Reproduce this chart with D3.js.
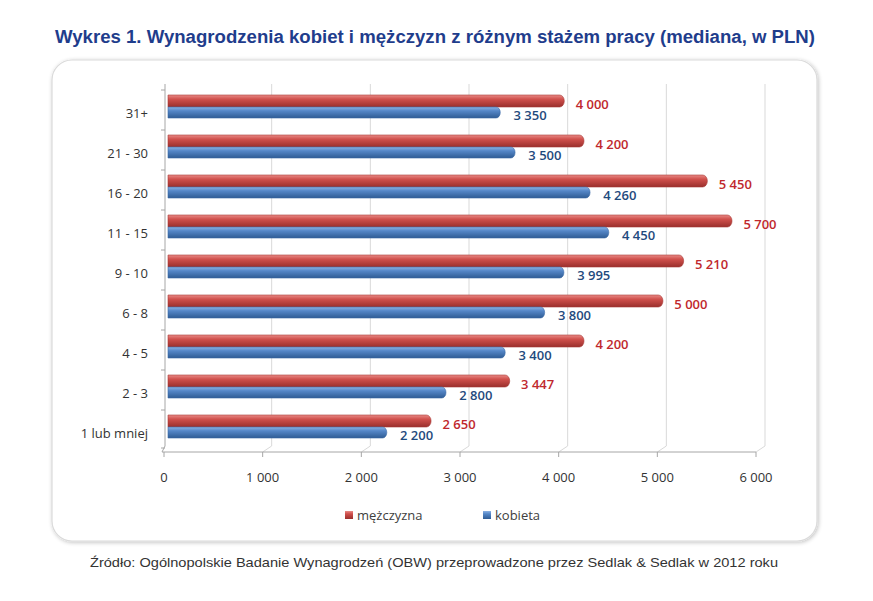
<!DOCTYPE html>
<html><head><meta charset="utf-8">
<script src="https://cdn.jsdelivr.net/npm/d3@7"></script>
<style>body{margin:0;background:#fff}svg{display:block}</style>
</head><body>
<script>
const categories = ["31+","21 - 30","16 - 20","11 - 15","9 - 10","6 - 8","4 - 5","2 - 3","1 lub mniej"];
const men = [4000,4200,5450,5700,5210,5000,4200,3447,2650];
const women = [3350,3500,4260,4450,3995,3800,3400,2800,2200];
const seriesNames = ["mężczyzna","kobieta"];
const ticks = [0,1000,2000,3000,4000,5000,6000];
const title = "Wykres 1. Wynagrodzenia kobiet i mężczyzn z różnym stażem pracy (mediana, w PLN)";
const source = "Źródło: Ogólnopolskie Badanie Wynagrodzeń (OBW) przeprowadzone przez Sedlak & Sedlak w 2012 roku";

const W=873,H=601;
const svg=d3.select("body").append("svg").attr("width",W).attr("height",H);
const defs=svg.append("defs");
function grad(id,c1,c2,c3){
  const g=defs.append("linearGradient").attr("id",id).attr("x1",0).attr("y1",0).attr("x2",0).attr("y2",1);
  g.append("stop").attr("offset","0%").attr("stop-color",c1);
  g.append("stop").attr("offset","35%").attr("stop-color",c2);
  g.append("stop").attr("offset","100%").attr("stop-color",c3);
}
grad("gRed","#e88a86","#d0504c","#9a2f2c");
grad("gBlue","#8cb2e3","#5587c8","#2f5c94");
const f=defs.append("filter").attr("id","sh").attr("x","-5%").attr("y","-5%").attr("width","110%").attr("height","110%");
f.append("feGaussianBlur").attr("in","SourceAlpha").attr("stdDeviation",2);
f.append("feOffset").attr("dx",1).attr("dy",1).attr("result","b");
f.append("feComponentTransfer").append("feFuncA").attr("type","linear").attr("slope",0.25);
const fm=f.append("feMerge");fm.append("feMergeNode");fm.append("feMergeNode").attr("in","SourceGraphic");

// title
svg.append("text").attr("x",435).attr("y",43).attr("text-anchor","middle")
  .attr("font-family","'Liberation Sans Narrow','Liberation Sans',Arial,sans-serif")
  .attr("font-weight","bold").attr("font-size",18).attr("fill","#1f3d8c")
  .attr("textLength",760).attr("lengthAdjust","spacingAndGlyphs").text(title);

// frame
svg.append("rect").attr("x",52).attr("y",60).attr("width",765).attr("height",481).attr("rx",20)
  .attr("fill","#fff").attr("stroke","#dadada").attr("stroke-width",1.2).attr("filter","url(#sh)");

const x=d3.scaleLinear().domain([0,6000]).range([164,756]);
const depth=9;
const y=d3.scaleBand().domain(categories).range([90,450]);
const axisY=452;

// gridlines
const g=svg.append("g");
g.selectAll("path.grid").data(ticks.slice(1)).join("path").attr("class","grid")
  .attr("d",d=>`M${x(d)},${axisY} L${x(d)+depth},${axisY-6} L${x(d)+depth},84`)
  .attr("fill","none").attr("stroke","#d9d9d9").attr("stroke-width",1);
// left axis
g.append("path").attr("d",`M${x(0)-2},${axisY} L${x(0)+1},${axisY-6} L${x(0)+1},84`)
  .attr("fill","none").attr("stroke","#a6a6a6");
g.append("line").attr("x1",x(0)-2).attr("x2",x(6000)).attr("y1",axisY).attr("y2",axisY).attr("stroke","#a6a6a6");
g.selectAll("line.yt").data(categories.concat(["end"])).join("line").attr("class","yt")
  .attr("x1",x(0)-3).attr("x2",x(0)+1)
  .attr("y1",d=>d==="end"?axisY-4:y(d)).attr("y2",d=>d==="end"?axisY-4:y(d)).attr("stroke","#a6a6a6");
g.selectAll("line.xt").data(ticks).join("line").attr("class","xt")
  .attr("x1",d=>x(d)).attr("x2",d=>x(d)).attr("y1",axisY).attr("y2",axisY+5).attr("stroke","#a6a6a6");

// x tick labels
svg.append("g").selectAll("text").data(ticks).join("text")
  .attr("x",d=>x(d)).attr("y",482).attr("text-anchor","middle")
  .attr("font-family","'Open Sans','Noto Sans',sans-serif").attr("font-size",13).attr("fill","#333")
  .text(d=>d3.format(",")(d).replace(/,/g," "));

// category labels
svg.append("g").selectAll("text").data(categories).join("text")
  .attr("x",148).attr("y",d=>y(d)+27.5).attr("text-anchor","end")
  .attr("font-family","'Open Sans','Noto Sans',sans-serif").attr("font-size",13).attr("fill","#333")
  .text(d=>d);

const fmt=v=>d3.format(",")(v).replace(/,/g," ");
function barPath(x0,x1,yt,h){
  const r=h/2;
  return `M${x0},${yt} L${x1-r},${yt} A${r/1.3},${r} 0 0 1 ${x1-r},${yt+h} L${x0},${yt+h} Z`;
}
const series=[
  {name:"mężczyzna",vals:men,fill:"url(#gRed)",stroke:"#a83a37",lab:"#c0282d",top:5,h:12,lx:10,ly:18.5},
  {name:"kobieta",vals:women,fill:"url(#gBlue)",stroke:"#3a6aa6",lab:"#1f4a7d",top:17,h:11,lx:12,ly:29.5}
];
series.forEach(s=>{
  const gg=svg.append("g");
  gg.selectAll("path").data(categories).join("path")
    .attr("d",(c,i)=>barPath(x(0)+4,x(s.vals[i])+7,y(c)+s.top,s.h))
    .attr("fill",s.fill).attr("stroke",s.stroke).attr("stroke-width",0.6);
  gg.selectAll("text").data(categories).join("text")
    .attr("x",(c,i)=>x(s.vals[i])+7+s.lx).attr("y",c=>y(c)+s.ly)
    .attr("font-family","'Open Sans','Noto Sans',sans-serif").attr("font-size",13).attr("font-weight","600")
    .attr("fill",s.lab).text((c,i)=>fmt(s.vals[i]));
});

// legend
const leg=svg.append("g");
const lx=[345,483];
series.forEach((s,i)=>{
  leg.append("rect").attr("x",lx[i]).attr("y",511).attr("width",8).attr("height",8).attr("fill",s.fill);
  leg.append("text").attr("x",lx[i]+12).attr("y",520).attr("font-family","'Open Sans','Noto Sans',sans-serif")
    .attr("font-size",13).attr("fill","#404040").text(s.name);
});

// source
svg.append("text").attr("x",434).attr("y",567).attr("text-anchor","middle")
  .attr("font-family","'Liberation Sans Narrow','Liberation Sans',Arial,sans-serif").attr("font-size",13).attr("fill","#333")
  .attr("textLength",688).attr("lengthAdjust","spacingAndGlyphs").text(source);
</script>
</body></html>
